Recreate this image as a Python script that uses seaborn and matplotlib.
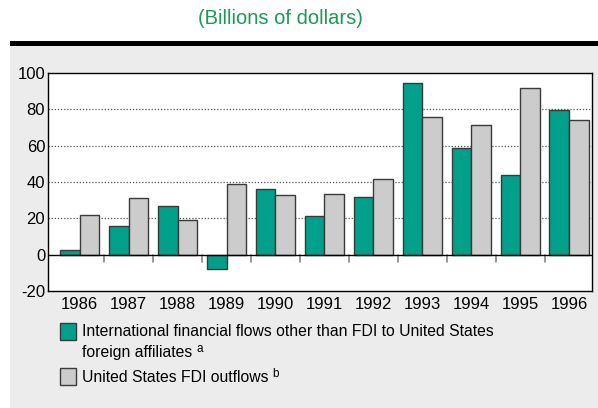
import matplotlib
matplotlib.use("Agg")
import matplotlib.pyplot as plt
from matplotlib.patches import Rectangle
import seaborn as sns
import pandas as pd

years = ["1986", "1987", "1988", "1989", "1990", "1991",
         "1992", "1993", "1994", "1995", "1996"]
financial_flows = [2.8, 16.0, 26.6, -8.1, 36.1, 21.3, 31.7, 94.3, 58.9, 44.0, 79.4]
fdi_outflows = [21.7, 31.2, 19.3, 38.9, 32.7, 33.4, 41.7, 76.0, 71.4, 91.7, 74.1]
series_names = ["International financial flows other than FDI to United States",
                "United States FDI outflows"]

teal = "#00a08a"
light_grey = "#cccccc"
panel_bg = "#ececec"
title_green = "#1a9a55"

df = pd.DataFrame({
    "year": years * 2,
    "value": financial_flows + fdi_outflows,
    "series": [series_names[0]] * len(years) + [series_names[1]] * len(years),
})

sns.set_theme(style="white")
plt.rcParams["font.family"] = ["Liberation Sans", "DejaVu Sans"]
plt.rcParams["text.color"] = "black"

fig = plt.figure(figsize=(5.98, 4.08), dpi=100)
fig.patch.set_facecolor("white")

# grey panel below the heavy rule
fig.patches.append(Rectangle((10 / 598, 0), 1 - 10 / 598, 1 - 46 / 408,
                             transform=fig.transFigure, facecolor=panel_bg,
                             edgecolor="none", zorder=0))
fig.patches.append(Rectangle((10 / 598, 1 - 46 / 408), 1 - 10 / 598, 5 / 408,
                             transform=fig.transFigure, facecolor="black",
                             edgecolor="none", zorder=1))

fig.text(280 / 598, 1 - 19 / 408, "(Billions of dollars)", ha="center", va="center",
         color=title_green, fontsize=14.5,
         family=["Liberation Sans Narrow", "Liberation Sans", "DejaVu Sans"])

ax = fig.add_axes([48 / 598, 1 - 291 / 408, 544 / 598, 218 / 408])
ax.set_zorder(5)
ax.set_facecolor("white")

sns.barplot(data=df, x="year", y="value", hue="series",
            palette=[teal, light_grey], width=0.8, dodge=True, saturation=1,
            edgecolor="#3a3a3a", linewidth=1.0, legend=False, ax=ax, zorder=3)

ax.set_ylim(-20, 100)
ax.set_xlim(-0.65, 10.47)
ax.set_yticks([-20, 0, 20, 40, 60, 80, 100])
ax.set_yticklabels(["-20", "0", "20", "40", "60", "80", "100"])
for yv in [20, 40, 60, 80]:
    ax.axhline(yv, color="#555555", linestyle=(0, (1, 1.5)), linewidth=0.9, zorder=1)
ax.axhline(0, color="black", linewidth=1.0, zorder=4)

# short separators hanging below the zero line between year groups
for i in range(len(years) - 1):
    ax.plot([i + 0.5, i + 0.5], [0, -4.2], color="#888888", linewidth=1.2,
            zorder=2, clip_on=False)

ax.set_xlabel("")
ax.set_ylabel("")
ax.tick_params(axis="both", length=0, labelsize=12, colors="black", labelcolor="black")
ax.tick_params(axis="x", pad=4)
ax.tick_params(axis="y", pad=2)
for s in ax.spines.values():
    s.set_visible(True)
    s.set_color("black")
    s.set_linewidth(1.0)

# legend
def legend_entry(y_top, color):
    fig.patches.append(Rectangle((60 / 598, 1 - (y_top + 17) / 408), 16 / 598, 17 / 408,
                                 transform=fig.transFigure, facecolor=color,
                                 edgecolor="#3a3a3a", linewidth=1.0, zorder=2))

legend_entry(323, teal)
legend_entry(368, light_grey)
leg_fs = 11.3
fig.text(82 / 598, 1 - 331 / 408, series_names[0], ha="left", va="center",
         fontsize=leg_fs, color="black")
t2 = fig.text(82 / 598, 1 - 352 / 408, "foreign affiliates", ha="left", va="center",
              fontsize=leg_fs, color="black")
t3 = fig.text(82 / 598, 1 - 377 / 408, series_names[1], ha="left", va="center",
              fontsize=leg_fs, color="black")

renderer = fig.canvas.get_renderer()
inv = fig.transFigure.inverted()
for t, mark in [(t2, "a"), (t3, "b")]:
    bb = t.get_window_extent(renderer)
    x_end = inv.transform((bb.x1, bb.y1))[0]
    _, y_mid = t.get_position()
    fig.text(x_end + 4 / 598, y_mid + 3 / 408, mark, ha="left", va="center",
             fontsize=8.5, color="black")

fig.savefig("out.png", dpi=100, facecolor=fig.get_facecolor())
